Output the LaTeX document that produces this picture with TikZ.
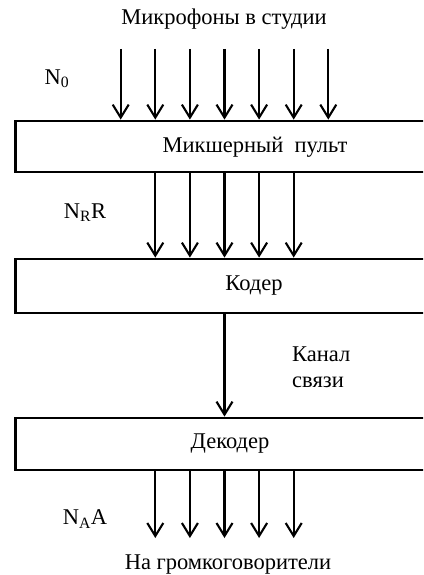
\documentclass[tikz,border=0pt]{standalone}
\usepackage{fontspec}
\setmainfont{Liberation Serif}
\usetikzlibrary{arrows.meta}
\begin{document}
\begin{tikzpicture}[x=1pt,y=-1pt,
  box/.style={draw,line width=2.8pt,minimum width=440pt,anchor=west,inner sep=0pt},
  flow/.style={line width=2.1pt,-{Straight Barb[length=13pt,width=16pt,line width=2.1pt]}},
  lbl/.style={font=\fontsize{22.5}{26}\selectfont,inner sep=0pt}]
\useasboundingbox (0,0) rectangle (423,575);
\clip (0,0) rectangle (423,575);

% blocks (open to the right, cut by the frame)
\node[box,minimum height=51pt] (mix) at (14,146.5) {};
\node[box,minimum height=54pt] (cod) at (14,286) {};
\node[box,minimum height=52pt] (dec) at (14,444) {};

% block captions
\node[lbl] (mixt) at (255,147) {Микшерный\ \ пульт};
\node[lbl] (codt) at (254,286) {Кодер};
\node[lbl] (dect) at (230,444) {Декодер};

% free labels
\node[lbl] (top) at (224,19) {Микрофоны в студии};
\node[lbl] (n0) at (57,79) {N\textsubscript{0}};
\node[lbl] (nr) at (85,213) {N\textsubscript{R}R};
\node[lbl,align=left,anchor=west] (ch) at (292,367) {Канал\\связи};
\node[lbl] (na) at (85,519) {N\textsubscript{A}A};
\node[lbl] (bot) at (228,565) {На громкоговорители};

% microphone inputs
\foreach \i/\x in {1/120.7,2/155.3,3/189.9,4/224.5,5/259.1,6/293.7,7/328.3}{
  \coordinate (m\i) at (\x,49);
  \draw[flow] (m\i) -- (m\i |- mix.north);
}
% mixer to coder, decoder to speakers
\foreach \i/\x in {1/155.3,2/189.9,3/224.5,4/259.1,5/293.7}{
  \draw[flow] (mix.south -| \x,0) -- (cod.north -| \x,0);
  \coordinate (s\i) at (\x,538);
  \draw[flow] (dec.south -| s\i) -- (s\i);
}
% channel
\draw[flow] (cod.south -| 224.5,0) -- (dec.north -| 224.5,0);
\end{tikzpicture}
\end{document}
